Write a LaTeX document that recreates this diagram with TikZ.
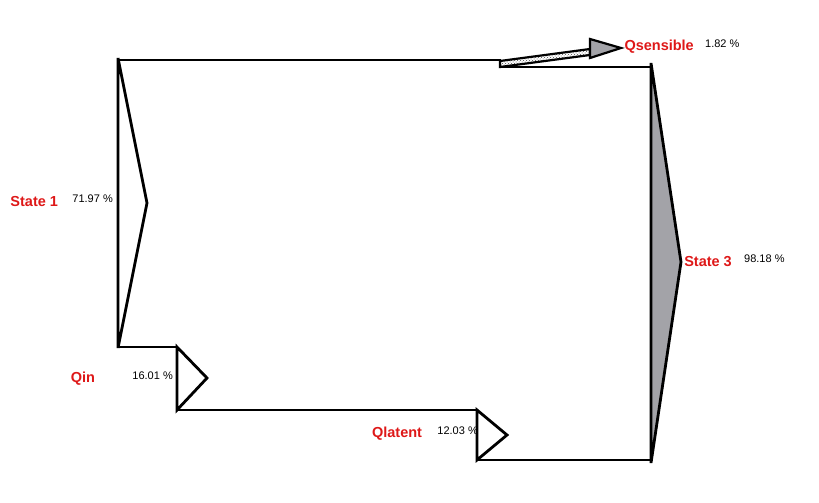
\documentclass[tikz,border=0pt]{standalone}
\usepackage{fontspec}
\setmainfont{Liberation Sans}
\usetikzlibrary{positioning, patterns}
\definecolor{flowred}{RGB}{222,24,24}
\definecolor{flowgray}{RGB}{163,163,168}
\tikzset{
	x=1pt, y=-1pt,
	flow/.style={line width=2.8pt, line join=miter},
	band/.style={flow, fill=white},
	shaded/.style={flow, fill=flowgray},
	flowname/.style={text=flowred, font=\bfseries\fontsize{14.5}{16}\selectfont, inner sep=0pt, yshift=-2.5pt},
	flowpct/.style={font=\fontsize{11}{13}\selectfont, inner sep=0pt}}

\begin{document}
\begin{tikzpicture}
	\useasboundingbox (0,0) rectangle (819,503);
	% band edges
	\draw[flow] (118,60) -- (501,60);
	\draw[flow] (500,67) -- (652,67);
	\draw[flow] (652,460) -- (477,460);
	\draw[flow] (477,410) -- (177,410);
	\draw[flow] (177,347) -- (117,347);

	% states and flows
	\draw[band] (118,58) -- (147,203) -- (118,348) -- cycle;
	\draw[shaded] (651,63) -- (681,262) -- (651,463) -- cycle;
	\draw[band] (177,347) -- (207,378) -- (177,410) -- cycle;
	\draw[band] (477,410) -- (507,435) -- (477,460) -- cycle;
	\draw[flow, line width=2.2pt, pattern=crosshatch dots, pattern color=black!70]
		(500,61) -- (590,49) -- (590,55) -- (500,67) -- cycle;
	\draw[shaded, line width=2.2pt] (590,39) -- (621,48) -- (590,58) -- cycle;

	% labels
	\node[flowpct, anchor=east] (p1) at (113,199) {71.97 \%};
	\node[flowname, left=14pt of p1] (s1) {State 1};
	\node[flowpct, anchor=east] (pin) at (173,376) {16.01 \%};
	\node[flowname, left=37pt of pin] (qin) {Qin};
	\node[flowpct, anchor=east] (plat) at (478,431) {12.03 \%};
	\node[flowname, left=15pt of plat] (qlat) {Qlatent};
	\node[flowpct, anchor=west] (p3) at (744,259) {98.18 \%};
	\node[flowname, left=12pt of p3] (s3) {State 3};
	\node[flowpct, anchor=west] (psens) at (705,44) {1.82 \%};
	\node[flowname, left=11pt of psens] (qsens) {Qsensible};
\end{tikzpicture}
\end{document}
